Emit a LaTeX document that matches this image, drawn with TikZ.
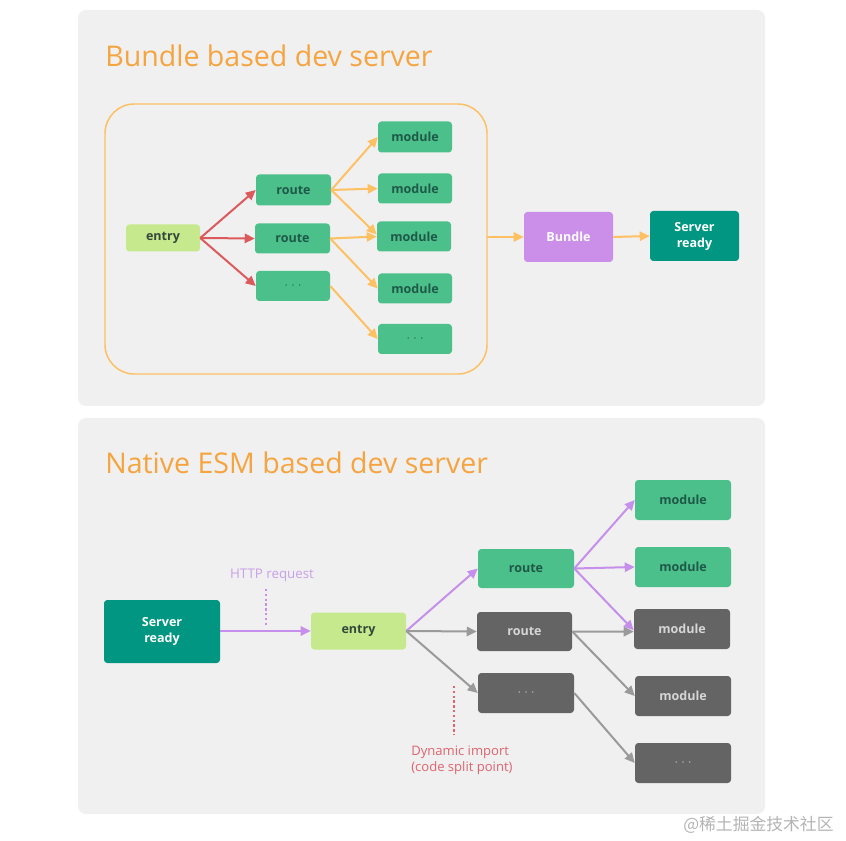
\documentclass[tikz,border=0pt]{standalone}
\usepackage{fontspec}
\setmainfont{Open Sans}
\newfontfamily\cjk{Noto Sans CJK SC}
\usetikzlibrary{arrows.meta}
\definecolor{panel}{HTML}{F0F0F0}
\definecolor{ttlorange}{HTML}{F6A440}
\definecolor{boxorange}{HTML}{FDC062}
\definecolor{redarrow}{HTML}{DD5A5C}
\definecolor{modgreen}{HTML}{4CC08A}
\definecolor{modtext}{HTML}{1E5848}
\definecolor{entrygreen}{HTML}{C5E98C}
\definecolor{entrytext}{HTML}{34483A}
\definecolor{bundlepurple}{HTML}{CB8FE9}
\definecolor{teal}{HTML}{009682}
\definecolor{graybox}{HTML}{646464}
\definecolor{graytext}{HTML}{D6D6D6}
\definecolor{grayarrow}{HTML}{9A9A9A}
\definecolor{purplearrow}{HTML}{C68FEB}
\definecolor{httptext}{HTML}{C9A0EA}
\definecolor{dyntext}{HTML}{E0636F}
\definecolor{wmark}{HTML}{B4B4B4}
\newcommand{\ddd}{$\cdot$\hspace{2.5pt}$\cdot$\hspace{2.5pt}$\cdot$}
\begin{document}
\begin{tikzpicture}[x=0.75pt,y=-0.75pt,
  box/.style={rectangle, rounded corners=2.5pt, inner sep=0pt, align=center,
    font=\fontsize{9.4}{12}\selectfont\bfseries},
  sz/.style 2 args={minimum width=#1*0.75pt, minimum height=#2*0.75pt},
  greenbox/.style={box, fill=modgreen, text=modtext},
  entrybox/.style={box, fill=entrygreen, text=entrytext},
  graynode/.style={box, fill=graybox, text=graytext},
  tealbox/.style={box, fill=teal, text=white},
  purplebox/.style={box, fill=bundlepurple, text=white},
  arr/.style={line width=1.5pt, -{Triangle[length=7.5pt,width=7pt]}},
  redarr/.style={arr, draw=redarrow},
  orarr/.style={arr, draw=boxorange},
  purarr/.style={arr, draw=purplearrow},
  grayarr/.style={arr, draw=grayarrow},
  title/.style={anchor=base west, inner sep=0pt, text=ttlorange, font=\fontsize{21.4}{26}\selectfont},
  dotline/.style={line width=0.9pt, dash pattern=on 1.8pt off 1.8pt}
]
\useasboundingbox (0,0) rectangle (846,841);
\fill[white] (0,0) rectangle (846,841);
% panels
\fill[panel, rounded corners=6pt] (78,10) rectangle (765,406);
\fill[panel, rounded corners=6pt] (78,418) rectangle (765,814);

% ---------- top ----------
\node[title] (t1) at (105,67) {Bundle based dev server};
\draw[boxorange, line width=1.1pt, rounded corners=22pt] (105,104) rectangle (487,374);
\coordinate (bigE) at (487,239);

\node[entrybox, sz={74}{27}] (en1) at (163,238) {entry};
\node[greenbox, sz={75}{31}] (r1) at (293.5,190) {route};
\node[greenbox, sz={75}{30}] (r2) at (292.5,238.5) {route};
\node[greenbox, sz={74}{30}] (r3) at (293,286) {\ddd};
\node[greenbox, sz={74}{31}] (m1) at (415,137) {module};
\node[greenbox, sz={74}{30}] (m2) at (415,188.5) {module};
\node[greenbox, sz={74}{30}] (m3) at (414,236.5) {module};
\node[greenbox, sz={74}{30}] (m4) at (415,288.5) {module};
\node[greenbox, sz={74}{30}] (m5) at (415,339) {\ddd};

\draw[redarr] (en1.east) -- (r1.west);
\draw[redarr] (en1.east) -- (r2.west);
\draw[redarr] (en1.east) -- (r3.west);

\draw[orarr] (r1.east) -- (m1.west);
\draw[orarr] (r1.east) -- (m2.west);
\draw[orarr] (r1.east) -- ([yshift=1.5pt]m3.west);
\draw[orarr] (r2.east) -- (m3.west);
\draw[orarr] (r2.east) -- (m4.west);
\draw[orarr] (r3.east) -- (m5.west);

\node[purplebox, sz={89}{50}] (bundle) at (568.5,237) {Bundle};
\node[tealbox, sz={89}{50}] (sr1) at (694.5,236) {Server\\ready};
\draw[orarr] (bigE |- bundle.west) -- (bundle.west);
\draw[orarr] (bundle.east) -- (sr1.west);

% ---------- bottom ----------
\node[title] (t2) at (105,474) {Native ESM based dev server};

\node[tealbox, sz={116}{63}] (sr2) at (162,631.5) {Server\\ready};
\node[entrybox, sz={95}{37}] (en2) at (358.5,631) {entry};
\draw[purarr] (sr2.east |- en2.west) -- (en2.west);

\node[inner sep=0pt, text=httptext, font=\fontsize{10}{12}\selectfont] (http) at (272,575) {HTTP request};
\coordinate (h1) at (266,589);
\coordinate (h2) at (266,626);
\draw[purplearrow, dotline] (h1) -- (h2);

\node[greenbox, sz={96}{39}] (br1) at (526,568.5) {route};
\node[graynode, sz={95}{39}] (br2) at (524.5,631.5) {route};
\node[graynode, sz={96}{40}] (br3) at (526,693) {\ddd};

\node[greenbox, sz={96}{40}] (bm1) at (683,500) {module};
\node[greenbox, sz={96}{40}] (bm2) at (683,567) {module};
\node[graynode, sz={96}{40}] (bm3) at (682,629) {module};
\node[graynode, sz={96}{40}] (bm4) at (683,696) {module};
\node[graynode, sz={96}{40}] (bm5) at (683,763) {\ddd};

\draw[purarr] (en2.east) -- (br1.west);
\draw[grayarr] (en2.east) -- (br2.west);
\draw[grayarr] (en2.east) -- (br3.west);

\draw[purarr] (br1.east) -- (bm1.west);
\draw[purarr] (br1.east) -- (bm2.west);
\draw[purarr] (br1.east) -- ([yshift=-1pt]bm3.west);
\draw[grayarr] (br2.east) -- ([yshift=-2pt]bm3.west);
\draw[grayarr] (br2.east) -- (bm4.west);
\draw[grayarr] (br3.east) -- (bm5.west);

\coordinate (d1) at (454,686);
\coordinate (d2) at (454,735);
\draw[dyntext, dotline] (d1) -- (d2);
\node[anchor=north west, inner sep=0pt, align=left, text=dyntext,
  font=\fontsize{9.8}{12}\selectfont] (dyn) at (411,746) {Dynamic import\\(code split point)};

% watermark
\node[anchor=west, inner sep=0pt, text=wmark, font=\cjk\fontsize{12.6}{15}\selectfont] (wm) at (683,825) {@稀土掘金技术社区};
\end{tikzpicture}
\end{document}
